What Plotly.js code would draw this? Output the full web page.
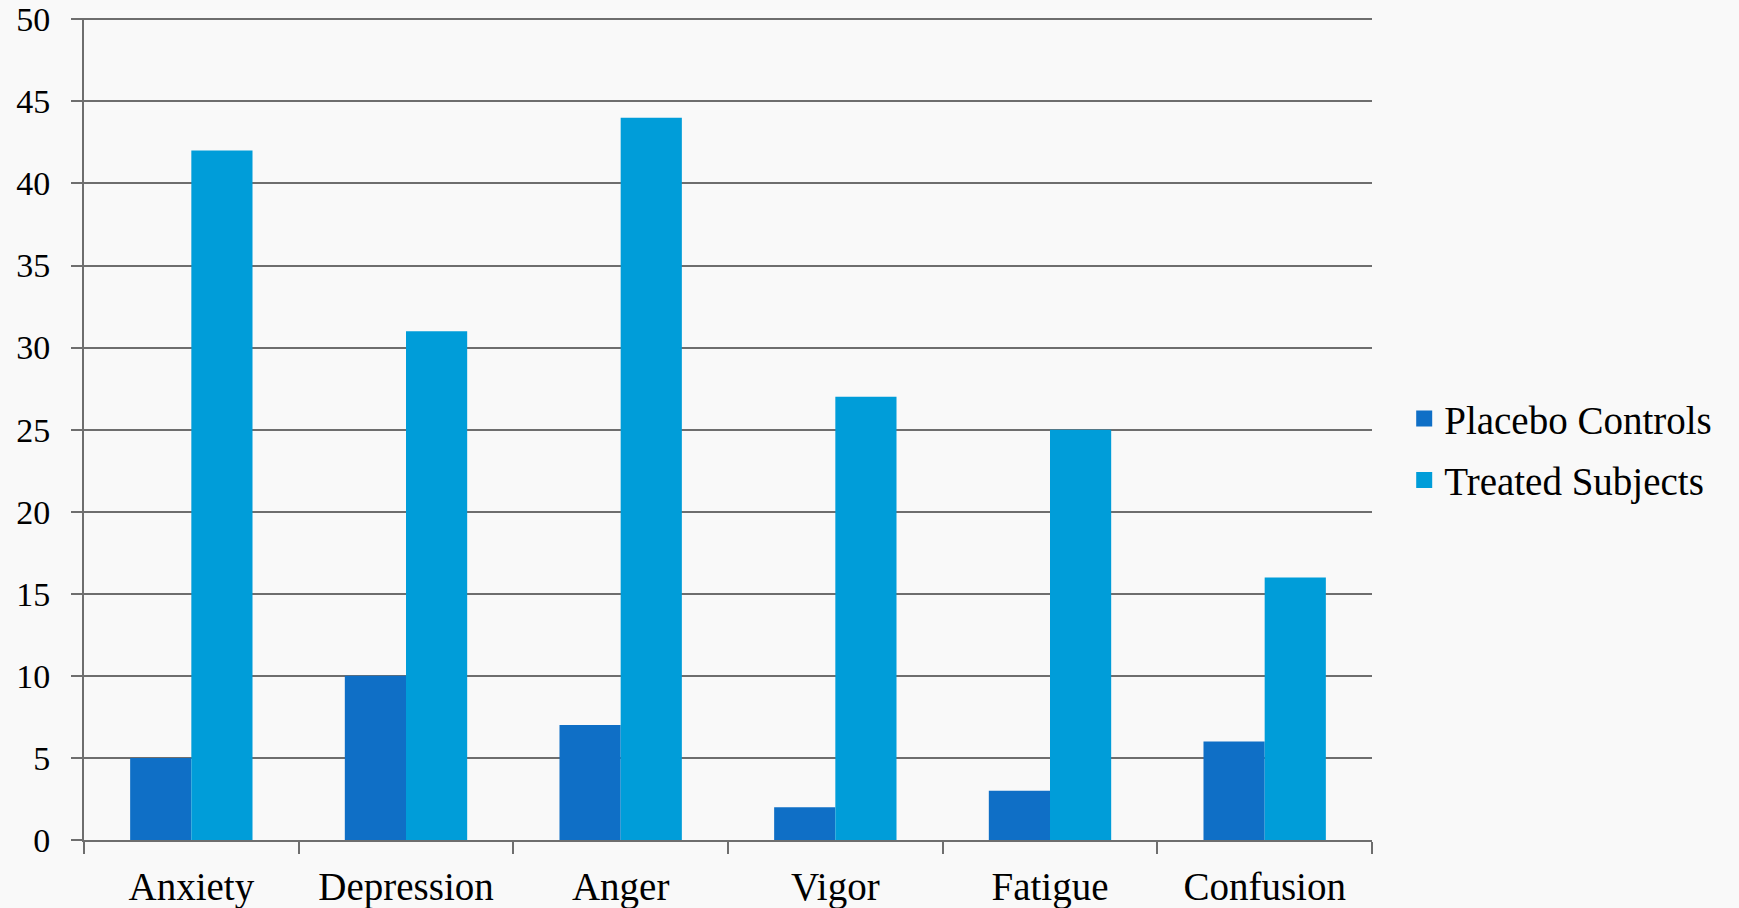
<!DOCTYPE html>
<html>
<head>
<meta charset="utf-8">
<script src="https://cdn.plot.ly/plotly-3.0.1.min.js"></script>
<style>
  html, body { margin: 0; padding: 0; background: #f9f9f9; }
  #chart { width: 1739px; height: 908px; }
</style>
</head>
<body>
<div id="chart"></div>
<script>
// Mood scale scores per group
const moods = ['Anxiety', 'Depression', 'Anger', 'Vigor', 'Fatigue', 'Confusion'];
const placebo = [5, 10, 7, 2, 3, 6];
const treated = [42, 31, 44, 27, 25, 16];
const yTicks = [0, 5, 10, 15, 20, 25, 30, 35, 40, 45, 50];
const seriesNames = ['Placebo Controls', 'Treated Subjects'];
const seriesColors = ['#0f6fc6', '#009dd9'];

const bars = [placebo, treated].map((vals, i) => ({
  x: moods,
  y: vals,
  type: 'bar',
  name: seriesNames[i],
  marker: { color: seriesColors[i] },
  showlegend: false
}));

// legend keys: bigger squares than the bar legend icon
const keys = seriesNames.map((name, i) => ({
  x: [null],
  y: [null],
  type: 'scatter',
  mode: 'markers',
  name: name,
  legendgroup: 'g' + i,
  marker: { symbol: 'square', size: 16, color: seriesColors[i] },
  hoverinfo: 'skip'
}));

const fam = '"Liberation Serif", "DejaVu Serif", serif';

const layout = {
  width: 1739,
  height: 908,
  paper_bgcolor: '#f9f9f9',
  plot_bgcolor: 'rgba(0,0,0,0)',
  margin: { l: 84, r: 367, t: 18, b: 68 },
  barmode: 'group',
  bargap: 0.43,
  bargroupgap: 0,
  font: { family: fam, color: '#000' },
  showlegend: true,
  legend: {
    x: 1.025, xanchor: 'left',
    y: 0.475, yanchor: 'middle',
    font: { family: fam, size: 39, color: '#000' },
    traceorder: 'grouped',
    tracegroupgap: 8,
    itemwidth: 30,
    bgcolor: 'rgba(0,0,0,0)'
  },
  xaxis: {
    type: 'category',
    showline: true,
    linecolor: '#6e6e6e',
    linewidth: 2,
    ticks: 'outside',
    tickson: 'boundaries',
    ticklen: 12,
    tickwidth: 2,
    tickcolor: '#6e6e6e',
    ticklabelstandoff: 11,
    tickfont: { family: fam, size: 39, color: '#000' },
    showgrid: false
  },
  yaxis: {
    range: [0, 50.08],
    tickvals: yTicks,
    showline: true,
    linecolor: '#6e6e6e',
    linewidth: 2,
    ticks: 'outside',
    ticklen: 11,
    tickwidth: 2,
    tickcolor: '#6e6e6e',
    ticklabelstandoff: 14,
    ticklabeloverflow: 'allow',
    showgrid: true,
    gridcolor: '#6e6e6e',
    gridwidth: 2,
    zeroline: false,
    tickfont: { family: fam, size: 34, color: '#000' }
  }
};

Plotly.newPlot('chart', bars.concat(keys), layout, { displayModeBar: false });
</script>
</body>
</html>
